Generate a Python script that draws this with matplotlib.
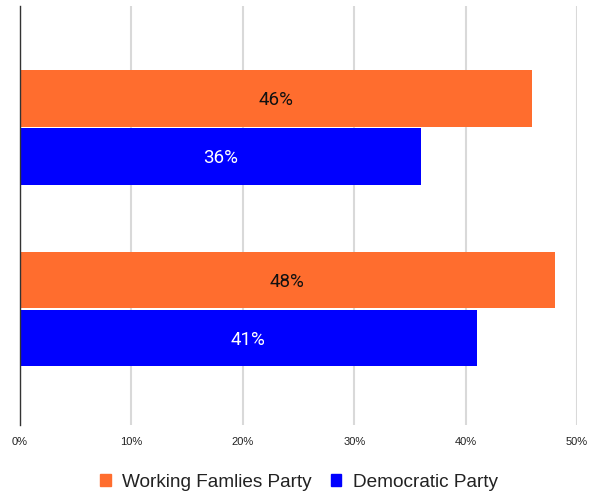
import numpy as np
import matplotlib.pyplot as plt
from matplotlib.patches import Patch

plt.rcParams['font.family'] = ['Liberation Sans', 'DejaVu Sans']

groups = ['Group 1', 'Group 2']
working_families = [46, 48]
democratic = [36, 41]
series_names = ['Working Famlies Party', 'Democratic Party']
colors = ['#ff6d2e', '#0000ff']
label_colors = ['#111111', 'white']
ticks = [0, 10, 20, 30, 40, 50]

fig = plt.figure(figsize=(5.92, 4.94), dpi=100)
ax = fig.add_axes([0.0338, 0.1397, 0.9409, 0.8482])

y = np.arange(len(groups))
h = 0.31
offsets = [-h / 2 - 0.005, h / 2 + 0.005]
for vals, off, c, lc in zip([working_families, democratic], offsets, colors, label_colors):
    bars = ax.barh(y + off, vals, height=h, color=c, zorder=3)
    for b, v in zip(bars, vals):
        ax.text(v / 2, b.get_y() + b.get_height() / 2 + 0.01, f'{v}%', ha='center', va='center',
                color=lc, fontsize=13.5, family=['Roboto', 'DejaVu Sans'], zorder=4)

ax.set_xlim(0, 50)
ax.set_ylim(1.64, -0.67)
ax.set_xticks(ticks)
ax.set_xticklabels([f'{t}%' for t in ticks], fontsize=8, color='#222222')
ax.set_yticks([])
ax.tick_params(axis='x', length=0, pad=9)
ax.grid(axis='x', color='#d9d9d9', linewidth=1.5, zorder=0)
for s in ['top', 'right', 'bottom']:
    ax.spines[s].set_visible(False)
ax.spines['left'].set_color('#333333')
ax.spines['left'].set_linewidth(1)
ax.spines['left'].set_zorder(5)

handles = [Patch(color=c, label=n) for c, n in zip(colors, series_names)]
leg = fig.legend(handles=handles, loc='center', bbox_to_anchor=(0.505, 0.024), ncol=2,
                 frameon=False, fontsize=13.7, handlelength=0.55, handleheight=0.55,
                 handletextpad=0.6, columnspacing=1.0)
for t in leg.get_texts():
    t.set_color('#222222')

fig.savefig('out.png', dpi=100)
